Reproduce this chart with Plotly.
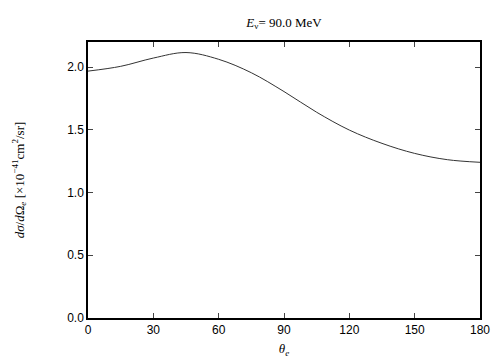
import plotly.graph_objects as go

theta = [0, 15, 30, 45, 60, 75, 90, 105, 120, 135, 150, 165, 180]
xsec = [1.968, 2.006, 2.072, 2.116, 2.062, 1.955, 1.805, 1.640, 1.498, 1.392, 1.312, 1.262, 1.241]
xticks = [0, 30, 60, 90, 120, 150, 180]
yticks = [0.0, 0.5, 1.0, 1.5, 2.0]

fig = go.Figure()
fig.add_trace(go.Scatter(x=theta, y=xsec, mode="lines",
                         line=dict(color="#333333", width=1, shape="spline", smoothing=1.0),
                         showlegend=False, hoverinfo="skip"))

axis_common = dict(showline=True, linecolor="black", linewidth=1.5, mirror="ticks",
                   ticks="inside", ticklen=5, tickwidth=1, tickcolor="#444",
                   showgrid=False, zeroline=False, automargin=False,
                   tickfont=dict(family="Liberation Sans, Arial", size=12, color="black"))

fig.update_layout(
    width=496, height=352,
    margin=dict(l=80, r=24, t=34, b=42),
    paper_bgcolor="white", plot_bgcolor="white",
    title=dict(text="<i>E</i><sub>ν</sub>= 90.0 MeV", x=0.5, xanchor="center", xref="paper",
               y=1 - 14 / 352, yanchor="middle", automargin=False,
               font=dict(family="Liberation Serif, Times New Roman", size=13, color="black")),
    xaxis=dict(range=[0, 180], tickvals=xticks, ticktext=[str(v) for v in xticks],
               title=dict(text="<i>θ<sub>e</sub></i>", standoff=8,
                          font=dict(family="Liberation Serif", size=13, color="black")),
               **axis_common),
    yaxis=dict(range=[0, 2.2], tickvals=yticks, ticktext=[f"{v:.1f}" for v in yticks],
               title=dict(text="<i>dσ</i>/<i>d</i>Ω<sub><i>e</i></sub> [×10<sup>−41</sup>cm<sup>2</sup>/sr]",
                          standoff=40,
                          font=dict(family="Liberation Serif", size=13, color="black")),
               **axis_common),
)

fig.write_html("out.html")
